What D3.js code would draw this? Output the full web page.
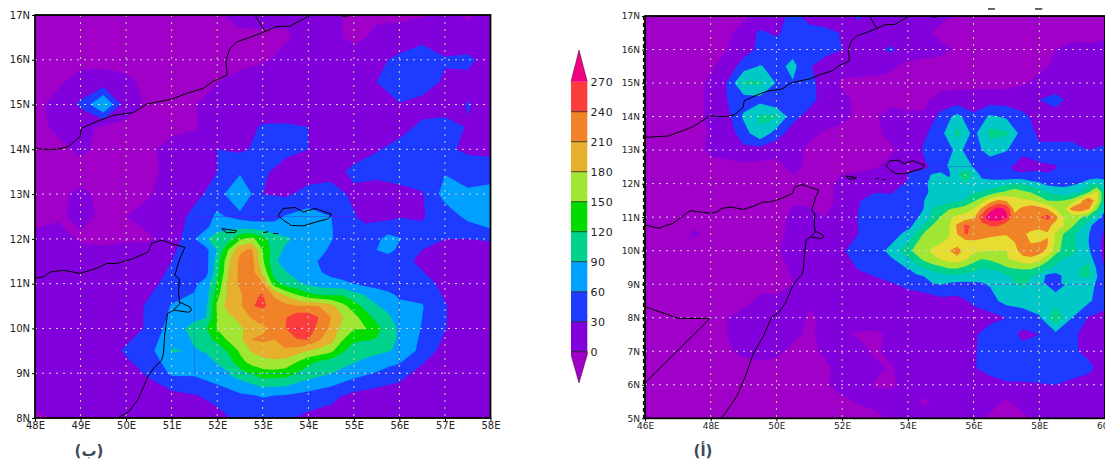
<!DOCTYPE html>
<html>
<head>
<meta charset="utf-8">
<script src="https://cdn.jsdelivr.net/npm/d3@7"></script>
<style>
html,body{margin:0;padding:0;background:#fff;overflow:hidden}
svg{display:block}
text{font-family:"DejaVu Sans",sans-serif;fill:#222}
</style>
</head>
<body>
<div id="chart-area"></div>
<script>
// levels and colours
var barLevels = [0,30,60,90,120,150,180,210,240,270];
var barColors = ["#a000c8","#8200dc","#1e3cff","#00a0ff","#00d28c","#00dc00","#a0e632","#e6af2d","#f08228","#fa3c3c","#f00082"];
var rightLevels = [0,30,60,90,120,150,180,210,240];
var rightColors = ["#a000c8","#8200dc","#1e3cff","#00c8c8","#00d28c","#a0e632","#e6dc32","#f08228","#fa3c3c","#f00082"];

// panel (b) 48E-58E, 17N-8N, every 0.5 deg
var gridB = [
[-8,-8,-8,-5,-8,-8,-8,-8,-3,8,10,5,8,5,-5,-3,-5,-3,5,-2,5],
[-8,-8,-8,-8,-8,-8,-8,-8,-8,-6,-6,-3,8,6,-6,5,10,25,10,5,25],
[-8,-8,-8,-8,-8,-8,-8,-8,-8,-8,-4,8,12,15,15,22,38,40,33,38,15],
[-8,-4,10,12,5,-6,-8,-6,0,10,20,15,15,18,20,30,50,45,25,20,30],
[-6,8,35,95,12,-4,-6,-1,10,15,18,15,15,15,15,20,28,20,15,32,18],
[-8,5,5,-3,-6,-8,-6,-2,10,22,32,33,30,18,18,18,22,35,42,28,20],
[-6,-6,4,-5,-6,-4,8,12,30,25,38,38,30,18,20,28,38,42,38,22,22],
[-8,-8,-8,-8,-8,-5,6,15,30,55,35,18,16,22,35,42,50,45,58,55,45],
[-8,-4,4,-4,-6,-2,12,20,45,92,30,25,40,40,25,10,15,28,72,62,72],
[-6,-3,5,-3,0,8,12,40,65,50,45,62,72,60,32,18,28,28,42,68,92],
[5,10,-3,-5,-2,-3,10,58,92,145,130,95,78,62,45,55,62,38,30,30,32],
[8,10,12,12,12,15,30,42,105,218,155,80,68,48,40,38,42,22,15,15,15],
[12,12,12,12,15,22,40,55,125,215,212,105,85,72,60,45,42,42,22,12,12],
[12,12,12,12,14,35,62,68,155,205,240,220,212,190,135,92,68,62,32,12,12],
[0,12,12,12,15,35,75,100,152,175,205,240,262,205,152,130,85,58,32,5,-2],
[12,12,12,12,35,50,92,88,102,155,195,205,180,158,105,98,85,50,18,6,12],
[8,12,12,12,15,35,65,65,80,105,138,135,105,92,72,58,42,18,12,0,12],
[10,10,10,10,10,12,20,28,40,55,62,58,50,38,22,15,12,8,5,2,12],
[-4,2,8,10,12,12,12,15,20,38,40,35,22,18,12,12,12,10,10,10,12]
];

// finer read of the core of panel (b), 51.5E-56E, 12.5N-9N, every 0.25 deg
var coreB = [
[40,50,65,58,50,45,45,50,62,68,72,68,60,45,32,22,18,20,28],
[49,55,75,85,85,80,78,72,70,70,70,65,62,48,42,35,45,48,45],
[58,85,115,105,145,160,130,105,95,85,78,70,62,50,45,45,55,68,62],
[50,50,92,152,205,215,150,105,85,75,70,68,55,45,42,42,60,72,52],
[42,48,105,175,218,225,155,95,80,72,68,58,48,42,40,38,38,38,42],
[48,48,110,180,218,225,175,105,92,80,72,62,52,45,42,42,42,40,42],
[55,72,125,190,215,225,212,135,105,95,85,75,72,68,60,52,45,42,42],
[62,75,140,190,205,232,243,205,175,150,128,118,118,118,100,88,80,68,55],
[68,82,155,195,205,238,246,225,220,212,212,208,190,160,135,110,92,82,68],
[84,88,150,172,190,212,222,228,238,258,258,238,210,182,160,135,110,95,76],
[100,118,152,165,175,192,205,218,240,272,262,225,205,170,152,152,130,105,85],
[94,108,128,155,172,210,215,210,225,238,240,212,190,152,125,122,118,102,85],
[88,92,102,125,155,182,195,205,205,195,180,170,158,125,105,100,98,92,85],
[76,82,92,105,140,160,170,172,168,150,128,115,105,98,92,85,75,68,64],
[65,72,80,88,105,125,138,140,135,118,105,98,92,82,72,65,58,50,42]
];

// panel (a) 46E-60E, 17N-5N, every 0.5 deg
var gridA = [
[-8,-8,-8,-8,-8,-8,-5,8,18,40,20,12,20,35,12,10,8,8,5,-2,-6,-6,-8,-8,-8,-8,-8,-8,-8],
[-8,-8,-8,-8,-8,-6,12,35,25,45,40,38,28,15,12,10,8,5,-5,-8,-8,-8,-8,-8,-8,-8,-8,-8,-6],
[-8,-8,-8,-8,-8,0,15,38,45,50,50,48,30,20,25,35,12,8,5,-2,-5,-5,-6,-4,-2,0,8,5,8],
[-8,-8,-8,-8,-4,10,45,62,50,68,35,5,10,10,8,3,-5,-7,-8,-8,-8,-8,-8,-8,-6,5,12,10,8],
[-8,-8,-8,-8,5,32,95,95,58,58,40,15,-4,-6,-6,-6,-8,-8,-8,-8,-8,-8,-8,-3,8,12,15,15,15],
[-8,-8,-8,-8,5,30,45,50,28,50,42,15,5,-4,-6,-6,-6,-3,8,12,14,15,15,18,30,40,20,15,15],
[-8,-8,-8,-8,5,20,65,95,95,40,18,10,5,-4,-2,8,3,2,40,70,35,65,55,35,22,18,15,18,20],
[-8,-8,-8,-8,2,15,45,85,45,15,5,-3,-6,-6,-4,5,8,25,50,100,50,100,95,45,25,15,25,20,12],
[-8,-8,-8,-8,5,10,22,15,8,8,-4,-5,-6,-6,-6,-2,6,35,45,65,50,70,62,35,35,45,35,30,38],
[-8,-8,-8,-8,-8,-8,-8,-8,-8,8,-6,-5,-4,-5,-2,5,15,25,45,85,58,45,35,20,28,28,60,35,35],
[-8,-8,-8,-8,-8,-8,-8,-8,-8,-8,-8,-4,5,10,15,15,35,55,72,82,78,72,82,88,65,50,55,85,75],
[-8,-8,-8,-8,-8,-8,-8,-8,-8,-2,-6,-2,2,28,42,40,33,60,72,85,115,165,175,155,135,118,130,215,90],
[-8,-8,-8,-8,-8,-8,-8,-8,-8,5,10,0,5,32,40,38,40,72,122,158,175,262,245,190,208,190,135,105,45],
[-8,-8,-8,3,-6,-8,-8,-8,-8,8,15,15,8,30,42,48,68,125,138,180,205,190,182,185,165,145,100,62,28],
[-8,-8,-8,-8,-8,-8,-8,-8,-2,8,12,15,28,38,48,68,110,142,165,188,158,150,150,195,195,135,115,65,25],
[-8,-8,-8,-8,-8,-8,-8,-5,-4,2,10,15,20,32,40,48,62,92,115,125,105,95,118,128,115,85,72,98,28],
[-8,-8,-8,-8,-8,-8,-7,-6,-5,0,4,12,15,18,22,28,35,42,62,52,55,62,72,95,72,42,72,78,30],
[-8,-8,-8,-8,-8,-8,-8,5,3,12,2,3,10,15,15,15,18,18,20,20,35,50,70,75,85,80,70,65,40],
[-8,-8,-8,-8,-7,0,12,15,15,8,-2,3,5,15,15,15,12,8,5,12,18,20,30,40,55,115,60,28,22],
[-8,-8,-8,-8,-8,0,12,15,15,5,-4,8,2,-3,-5,5,12,15,15,18,25,45,40,25,30,50,38,15,12],
[-8,-8,-8,-8,-8,-3,5,10,5,-5,-6,5,12,10,-4,8,5,5,8,15,28,38,45,38,42,40,35,22,18],
[-8,-8,-8,-8,-8,-8,-8,-8,-8,-8,-8,-5,10,15,5,-2,12,18,22,25,28,40,50,50,48,50,45,38,15],
[-8,-8,-8,-8,-8,-8,-8,-8,-8,-8,-8,-3,12,12,-2,-3,8,10,12,15,15,18,25,25,28,30,22,15,12],
[-8,-8,-8,-8,-8,-8,-8,-8,-8,-8,-8,-8,-5,2,8,10,5,-3,8,10,12,5,-2,5,10,12,12,12,12],
[-8,-8,-8,-8,-8,-8,-8,-8,-8,-8,-8,-8,-8,-8,-8,5,8,8,8,8,5,-2,-5,-2,3,8,10,10,10]
];

// finer read of the core of panel (a), 54E-60E, 12.5N-9N, every 0.25 deg
var coreA = [
[15,22,25,32,45,62,85,80,58,42,45,38,35,25,20,28,28,25,28,42,60,42,35,32,35],
[33,38,45,65,68,55,85,125,85,52,48,42,38,35,35,32,32,32,38,45,48,38,35,40,45],
[35,42,55,68,72,75,82,88,78,72,72,75,82,92,88,72,65,52,50,52,55,62,85,92,75],
[38,42,55,65,72,76,80,84,86,92,100,115,125,138,125,118,105,88,78,72,78,88,118,155,90],
[33,38,60,66,72,78,85,92,115,135,165,185,175,158,155,152,135,120,118,120,130,165,215,160,90],
[30,40,62,90,105,118,125,135,150,185,225,250,235,170,188,200,195,178,150,140,195,205,185,125,65],
[40,55,72,95,122,145,158,162,175,225,262,262,245,190,190,200,208,222,190,150,135,125,105,75,45],
[48,70,95,122,135,148,185,215,205,200,212,212,190,185,190,195,192,188,170,150,125,98,72,40,30],
[68,95,125,130,138,148,180,212,205,195,190,185,182,182,185,172,165,178,145,118,100,75,62,35,28],
[85,118,130,140,148,155,162,168,172,170,165,165,165,180,195,178,180,182,145,110,100,72,60,32,28],
[110,130,142,155,165,178,195,170,158,152,150,150,150,170,195,195,195,175,135,108,115,70,65,35,25],
[82,108,128,140,152,162,170,155,130,120,125,140,148,155,170,175,160,130,100,88,72,75,80,40,25],
[62,80,92,108,115,125,125,115,105,92,95,100,118,125,128,128,115,95,85,78,72,90,98,55,28],
[42,55,62,75,78,88,82,80,75,68,72,75,88,92,95,92,80,52,48,65,72,92,95,62,30],
[35,38,42,58,62,55,52,52,55,58,62,68,72,90,95,82,72,50,42,68,72,75,78,55,30]
];

// coast lines, [lon, lat]
var arabiaCoast = [[46,13.38],[46.71,13.42],[47.07,13.55],[47.47,13.7],[47.98,14.03],[48.18,14],[48.48,14],[48.73,14.06],[48.99,14.28],[49.02,14.47],[49.35,14.62],[49.72,14.76],[50.16,14.82],[50.45,15.01],[51,15.12],[51.33,15.25],[51.69,15.36],[51.91,15.52],[52.22,15.66],[52.19,15.99],[52.28,16.25],[52.43,16.4],[52.72,16.5],[53.05,16.63],[53.3,16.74],[53.6,16.75],[53.85,16.89],[54.03,16.98]];
var omanBorder = [[52.83,17],[53.05,16.63]];
var hornCoast = [[46,10.77],[46.41,10.67],[46.86,10.82],[47.37,11.19],[47.98,11.12],[48.18,11.15],[48.33,11.26],[48.62,11.3],[48.99,11.23],[49.35,11.34],[49.57,11.45],[49.79,11.45],[50.16,11.56],[50.49,11.71],[50.56,11.9],[50.78,11.97],[51.04,11.88],[51.29,11.81],[51.18,11.56],[51.07,11.19],[51.17,11.11],[51.15,10.78],[51.18,10.55],[51.04,10.41],[50.91,10.33],[50.85,9.88],[50.82,9.44],[50.78,9.29],[50.63,9.14],[50.49,8.95],[50.38,8.69],[50.27,8.43],[50.05,8.13],[49.86,8.03],[49.6,7.44],[49.3,6.94],[49.05,6.24],[48.79,5.65],[48.33,5]];
var hafun = [[51.15,10.6],[51.4,10.48],[51.44,10.41],[51.37,10.36],[51.04,10.41]];
var socotra = [[53.34,12.53],[53.45,12.68],[53.71,12.7],[53.89,12.6],[54.15,12.68],[54.51,12.55],[54.44,12.45],[54.18,12.38],[53.89,12.29],[53.63,12.3],[53.45,12.42],[53.34,12.53]];
var abdAlKuri = [[52.1,12.23],[52.43,12.18],[52.39,12.14],[52.2,12.14],[52.1,12.23]];
var islet1 = [[53.01,12.14],[53.12,12.16]];
var islet2 = [[53.23,12.12],[53.34,12.12]];
var topIslet = [[54.7,17],[54.8,16.96],[54.95,17]];
var border1 = [[46,8.33],[47.02,7.98],[47.98,7.98]];
var border2 = [[46,6.05],[47.98,7.98]];
var allLines = [arabiaCoast,omanBorder,hornCoast,hafun,socotra,abdAlKuri,islet1,islet2,topIslet,border1,border2];
// stray bits of a cut off title above panel (a)
var titleBits = [[[56.44,17.21],[56.65,17.21]],[[57.87,17.21],[58.09,17.21]]];

var lonTicksB = [48,49,50,51,52,53,54,55,56,57,58];
var latTicksB = [8,9,10,11,12,13,14,15,16,17];
var lonTicksA = [46,48,50,52,54,56,58,60];
var latTicksA = [5,6,7,8,9,10,11,12,13,14,15,16,17];

var svg = d3.select("#chart-area").append("svg")
	.attr("width", 1105)
	.attr("height", 461);

function drawField(parent,grid,lonStart,latStart,step,p,x,y){
	var rows = grid.length, cols = grid[0].length;
	var contours = d3.contours().size([cols,rows]).thresholds(p.levels)(grid.flat());
	var path = d3.geoPath(d3.geoTransform({point:function(gx,gy){
		this.stream.point(x(lonStart+(gx-0.5)*step), y(latStart-(gy-0.5)*step));
	}}));
	parent.selectAll("path.fill").data(contours).enter()
		.append("path")
		.attr("class","fill")
		.attr("d",path)
		.attr("fill",function(d,i){return p.colors[i+1];});
}

function drawMap(p){
	var x = d3.scaleLinear().domain([p.lon0,p.lon1]).range([p.left,p.right]);
	var y = d3.scaleLinear().domain([p.lat0,p.lat1]).range([p.top,p.bottom]);
	var g = svg.append("g");
	g.append("clipPath").attr("id",p.id)
		.append("rect")
		.attr("x",p.left).attr("y",p.top)
		.attr("width",p.right-p.left).attr("height",p.bottom-p.top);
	var inner = g.append("g").attr("clip-path","url(#"+p.id+")");

	inner.append("rect")
		.attr("x",p.left).attr("y",p.top)
		.attr("width",p.right-p.left).attr("height",p.bottom-p.top)
		.attr("fill",p.colors[0]);
	drawField(inner.append("g"),p.grid,p.lon0,p.lat0,0.5,p,x,y);

	// fine core on top of the coarse field
	var cols = p.core[0].length, rows = p.core.length;
	var cx = x(p.coreLon), cy = y(p.coreLat);
	var cw = x(p.coreLon+(cols-1)*0.25)-cx, ch = y(p.coreLat-(rows-1)*0.25)-cy;
	g.append("clipPath").attr("id",p.id+"Core")
		.append("rect").attr("x",cx).attr("y",cy).attr("width",cw).attr("height",ch);
	var coreG = inner.append("g").attr("clip-path","url(#"+p.id+"Core)");
	coreG.append("rect").attr("x",cx).attr("y",cy).attr("width",cw).attr("height",ch).attr("fill",p.colors[1]);
	drawField(coreG,p.core,p.coreLon,p.coreLat,0.25,p,x,y);

	// dotted grid
	inner.selectAll("line.glon").data(p.lonTicks).enter().append("line")
		.attr("x1",function(d){return x(d);}).attr("x2",function(d){return x(d);})
		.attr("y1",p.top).attr("y2",p.bottom)
		.attr("stroke","#c4d89c").attr("stroke-width",1).attr("stroke-dasharray","2 5");
	inner.selectAll("line.glat").data(p.latTicks).enter().append("line")
		.attr("x1",p.left).attr("x2",p.right)
		.attr("y1",function(d){return y(d);}).attr("y2",function(d){return y(d);})
		.attr("stroke","#dcd4dc").attr("stroke-width",1).attr("stroke-dasharray","2 5");

	// coast
	var line = d3.line().x(function(d){return x(d[0]);}).y(function(d){return y(d[1]);});
	inner.selectAll("path.coast").data(allLines).enter().append("path")
		.attr("class","coast")
		.attr("d",line)
		.attr("fill","none").attr("stroke","#000").attr("stroke-width",1);

	// frame
	g.append("rect")
		.attr("x",p.left).attr("y",p.top)
		.attr("width",p.right-p.left).attr("height",p.bottom-p.top)
		.attr("fill","none").attr("stroke","#000").attr("stroke-width",1.8);
	if(p.bits){
		g.selectAll("path.bit").data(p.bits).enter().append("path")
			.attr("class","bit").attr("d",line)
			.attr("stroke","#000").attr("stroke-width",1.2);
		g.append("line")
			.attr("x1",p.left-1.5).attr("x2",p.left-1.5)
			.attr("y1",p.top).attr("y2",p.bottom)
			.attr("stroke","#000").attr("stroke-width",1.2).attr("stroke-dasharray","4 3");
	}

	// axes
	var bottomAxis = d3.axisBottom(x).tickValues(p.lonTicks)
		.tickFormat(function(d){return d+"E";}).tickSize(3).tickSizeOuter(0);
	var ax1 = g.append("g").attr("transform","translate(0,"+p.bottom+")").call(bottomAxis);
	var leftAxis = d3.axisLeft(y).tickValues(p.latTicks)
		.tickFormat(function(d){return d+"N";}).tickSize(3).tickSizeOuter(0);
	var ax2 = g.append("g").attr("transform","translate("+p.left+",0)").call(leftAxis);
	[ax1,ax2].forEach(function(a){
		a.select(".domain").remove();
		a.selectAll("text").attr("font-size",p.fontSize).attr("font-family","DejaVu Sans").attr("fill","#222");
	});
	ax1.selectAll("text").attr("y",4);
	ax2.selectAll("text").attr("x",-5);

	g.append("text")
		.attr("x",p.tagX).attr("y",456)
		.attr("text-anchor","middle")
		.attr("font-size",15).attr("font-weight","bold")
		.style("fill","#3d4a5c")
		.text(p.tag);
}

drawMap({id:"clipB",grid:gridB,core:coreB,coreLon:51.5,coreLat:12.5,levels:barLevels,colors:barColors,
	lon0:48,lon1:58,lat0:17,lat1:8,left:35,right:490.5,top:15,bottom:418,
	lonTicks:lonTicksB,latTicks:latTicksB,fontSize:10,tag:"(ب)",tagX:89});
drawMap({id:"clipA",grid:gridA,core:coreA,coreLon:54,coreLat:12.5,levels:rightLevels,colors:rightColors,
	lon0:46,lon1:60,lat0:17,lat1:5,left:645,right:1105,top:16,bottom:418.3,
	lonTicks:lonTicksA,latTicks:latTicksA,fontSize:9,tag:"(أ)",tagX:703,bits:titleBits});

// colour bar
var barY = d3.scaleLinear().domain([0,270]).range([351.7,81.7]);
var barX0 = 571, barX1 = 587.3, barMid = 579;
var bar = svg.append("g");
var cells = d3.pairs(barLevels);
bar.selectAll("rect").data(cells).enter().append("rect")
	.attr("x",barX0).attr("width",barX1-barX0)
	.attr("y",function(d){return barY(d[1]);})
	.attr("height",function(d){return barY(d[0])-barY(d[1]);})
	.attr("fill",function(d,i){return barColors[i+1];});
bar.append("path")
	.attr("d",d3.line()([[barX0,barY(270)],[barMid,50],[barX1,barY(270)]]))
	.attr("fill",barColors[10]).attr("stroke","#301030").attr("stroke-width",0.5);
bar.append("path")
	.attr("d",d3.line()([[barX0,barY(0)+3],[barMid,383],[barX1,barY(0)+3],[barX1,barY(0)],[barX0,barY(0)]]))
	.attr("fill",barColors[0]).attr("stroke","#301030").attr("stroke-width",0.5);
bar.selectAll("line").data(barLevels.slice(0,9)).enter().append("line")
	.attr("x1",barX0).attr("x2",barX1)
	.attr("y1",function(d){return barY(d);}).attr("y2",function(d){return barY(d);})
	.attr("stroke","#222").attr("stroke-width",0.8);
bar.selectAll("text").data(barLevels).enter().append("text")
	.attr("x",590.5)
	.attr("y",function(d){return barY(d)+4;})
	.attr("font-size",11)
	.attr("letter-spacing",0.6)
	.text(function(d){return d;});
</script>
</body>
</html>
